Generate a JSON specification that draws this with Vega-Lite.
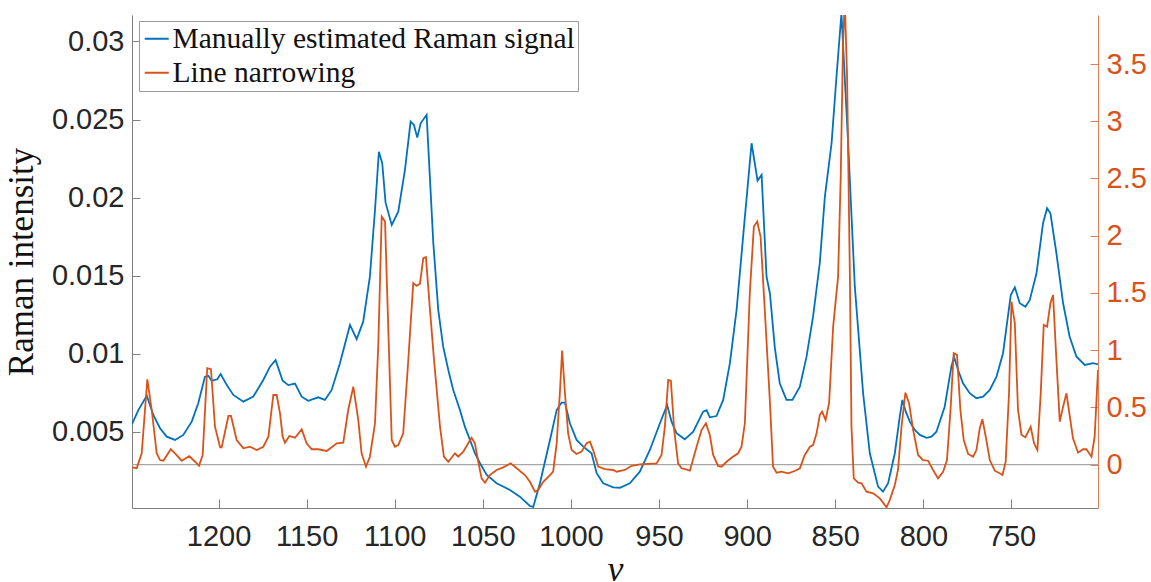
{
"$schema": "https://vega.github.io/schema/vega-lite/v6.json",
"width": 966, "height": 493,
"autosize": {"type": "none"},
"padding": {"left": 132, "top": 15, "right": 53, "bottom": 74},
"background": "white",
"config": {"view": {"stroke": null}, "axis": {"grid": false}},
"datasets": {
"raman": [
{"x":1249.1,"y":0.0055},{"x":1245.5,"y":0.0064},{"x":1240.7,"y":0.00732},{"x":1237,"y":0.00609},{"x":1233.2,"y":0.00524},{"x":1229.4,"y":0.0047},{"x":1224.7,"y":0.00449},{"x":1220,"y":0.00481},{"x":1215.2,"y":0.00566},{"x":1211.5,"y":0.00684},{"x":1207.7,"y":0.00854},{"x":1205.8,"y":0.0086},{"x":1203.9,"y":0.00828},{"x":1200.7,"y":0.00837},{"x":1198.8,"y":0.00871},{"x":1195.3,"y":0.008},{"x":1191.6,"y":0.00737},{"x":1185.9,"y":0.00694},{"x":1180.3,"y":0.00726},{"x":1174.6,"y":0.00833},{"x":1170.8,"y":0.00918},{"x":1167.6,"y":0.0096},{"x":1163.6,"y":0.00828},{"x":1160.4,"y":0.008},{"x":1156.6,"y":0.0081},{"x":1152.8,"y":0.00726},{"x":1149.1,"y":0.007},{"x":1143.4,"y":0.00722},{"x":1139.6,"y":0.00705},{"x":1135.8,"y":0.00769},{"x":1131.1,"y":0.0094},{"x":1125.4,"y":0.01185},{"x":1121.6,"y":0.01094},{"x":1117.9,"y":0.01206},{"x":1114.1,"y":0.01494},{"x":1111.2,"y":0.01921},{"x":1109,"y":0.02294},{"x":1107.1,"y":0.0222},{"x":1105.2,"y":0.01968},{"x":1101.7,"y":0.01825},{"x":1098,"y":0.0191},{"x":1094.2,"y":0.02177},{"x":1091,"y":0.02487},{"x":1089.1,"y":0.02465},{"x":1087.2,"y":0.02384},{"x":1085.3,"y":0.02476},{"x":1081.9,"y":0.0253},{"x":1078.1,"y":0.01708},{"x":1075.3,"y":0.01281},{"x":1072.5,"y":0.01046},{"x":1069.6,"y":0.00897},{"x":1066.8,"y":0.00769},{"x":1063,"y":0.00641},{"x":1060.2,"y":0.00534},{"x":1057.3,"y":0.00449},{"x":1054.5,"y":0.00364},{"x":1051.6,"y":0.003},{"x":1047.8,"y":0.00225},{"x":1042.2,"y":0.00172},{"x":1034.6,"y":0.00129},{"x":1029,"y":0.00086},{"x":1023.3,"y":0.00026},{"x":1021.4,"y":0.0002},{"x":1017.6,"y":0.00172},{"x":1011.9,"y":0.00449},{"x":1008.1,"y":0.0064},{"x":1005.3,"y":0.00688},{"x":1003.4,"y":0.00688},{"x":1000.6,"y":0.00556},{"x":996.8,"y":0.00449},{"x":993,"y":0.00406},{"x":988.3,"y":0.00364},{"x":985.4,"y":0.00236},{"x":981.7,"y":0.00172},{"x":976,"y":0.00146},{"x":972.2,"y":0.00143},{"x":966.6,"y":0.00172},{"x":960.9,"y":0.00246},{"x":955.2,"y":0.00385},{"x":949.5,"y":0.00556},{"x":945.4,"y":0.00673},{"x":942.9,"y":0.00566},{"x":940.1,"y":0.00492},{"x":935.4,"y":0.00453},{"x":930.6,"y":0.00502},{"x":925,"y":0.0063},{"x":923,"y":0.0064},{"x":921.2,"y":0.00594},{"x":917.4,"y":0.00602},{"x":913.6,"y":0.00705},{"x":909.8,"y":0.0094},{"x":906,"y":0.01281},{"x":902.3,"y":0.0175},{"x":897.5,"y":0.02348},{"x":894.1,"y":0.02109},{"x":891.8,"y":0.02145},{"x":889,"y":0.01494},{"x":887.1,"y":0.01388},{"x":884.3,"y":0.0104},{"x":881.5,"y":0.00812},{"x":877.7,"y":0.00705},{"x":874.3,"y":0.00705},{"x":870.1,"y":0.0079},{"x":866.3,"y":0.00982},{"x":862.6,"y":0.01238},{"x":858.8,"y":0.0158},{"x":855.9,"y":0.02006},{"x":852.1,"y":0.02348},{"x":849.3,"y":0.02775},{"x":846.5,"y":0.0318},{"x":842.7,"y":0.02348},{"x":838.9,"y":0.0143},{"x":834.2,"y":0.00748},{"x":830.4,"y":0.00364},{"x":825.7,"y":0.0015},{"x":822.9,"y":0.00118},{"x":820,"y":0.00172},{"x":816.2,"y":0.00364},{"x":813.4,"y":0.00598},{"x":811.9,"y":0.00705},{"x":810,"y":0.0063},{"x":807.7,"y":0.00566},{"x":804.9,"y":0.00513},{"x":802,"y":0.00481},{"x":798.2,"y":0.00463},{"x":795.4,"y":0.0047},{"x":792.6,"y":0.00502},{"x":787.9,"y":0.00662},{"x":784.1,"y":0.00918},{"x":782.6,"y":0.00982},{"x":780.3,"y":0.00897},{"x":777.5,"y":0.00812},{"x":773.7,"y":0.00748},{"x":769.9,"y":0.00716},{"x":766.1,"y":0.00726},{"x":762.3,"y":0.00769},{"x":758.5,"y":0.00854},{"x":754.8,"y":0.01004},{"x":750.4,"y":0.01377},{"x":748.1,"y":0.01426},{"x":745.3,"y":0.01324},{"x":742.1,"y":0.01302},{"x":739.6,"y":0.01345},{"x":735.8,"y":0.01516},{"x":732.1,"y":0.01836},{"x":729.8,"y":0.01932},{"x":727.9,"y":0.019},{"x":724.5,"y":0.01644},{"x":720.7,"y":0.01324},{"x":717,"y":0.0111},{"x":713.1,"y":0.00982},{"x":708.4,"y":0.00929},{"x":703.7,"y":0.0094},{"x":700.9,"y":0.00933}
],
"ln": [
{"x":1249.1,"y":-0.023},{"x":1246.4,"y":-0.03},{"x":1243.6,"y":0.1},{"x":1240.4,"y":0.746},{"x":1237.9,"y":0.478},{"x":1235.1,"y":0.1},{"x":1233.2,"y":0.041},{"x":1231.3,"y":0.035},{"x":1227.1,"y":0.135},{"x":1224.7,"y":0.1},{"x":1220.9,"y":0.035},{"x":1216.6,"y":0.076},{"x":1213.3,"y":0.026},{"x":1211.1,"y":-0.009},{"x":1209,"y":0.085},{"x":1206.4,"y":0.843},{"x":1204.3,"y":0.834},{"x":1202,"y":0.332},{"x":1199.1,"y":0.152},{"x":1198.2,"y":0.152},{"x":1194.4,"y":0.426},{"x":1192.9,"y":0.426},{"x":1189.7,"y":0.216},{"x":1185.9,"y":0.143},{"x":1182.1,"y":0.157},{"x":1178.3,"y":0.128},{"x":1174.6,"y":0.157},{"x":1171.7,"y":0.245},{"x":1168.9,"y":0.609},{"x":1167,"y":0.609},{"x":1165.1,"y":0.449},{"x":1163.6,"y":0.245},{"x":1162.3,"y":0.192},{"x":1159.8,"y":0.251},{"x":1156.6,"y":0.236},{"x":1152.8,"y":0.309},{"x":1150,"y":0.187},{"x":1147.1,"y":0.135},{"x":1143.4,"y":0.135},{"x":1138.6,"y":0.12},{"x":1132.9,"y":0.187},{"x":1129.2,"y":0.192},{"x":1126.4,"y":0.478},{"x":1123.5,"y":0.682},{"x":1120.7,"y":0.391},{"x":1118.8,"y":0.1},{"x":1116.3,"y":-0.017},{"x":1114.1,"y":0.07},{"x":1111.2,"y":0.362},{"x":1109.3,"y":1.061},{"x":1107.4,"y":2.168},{"x":1105.5,"y":2.124},{"x":1103.7,"y":1.206},{"x":1101.7,"y":0.216},{"x":1099.9,"y":0.157},{"x":1098,"y":0.172},{"x":1095.2,"y":0.274},{"x":1092.3,"y":0.915},{"x":1089.5,"y":1.586},{"x":1087.6,"y":1.562},{"x":1085.7,"y":1.58},{"x":1083.8,"y":1.804},{"x":1082.3,"y":1.813},{"x":1080,"y":1.352},{"x":1077.7,"y":0.915},{"x":1074.3,"y":0.332},{"x":1072.1,"y":0.07},{"x":1069.6,"y":0.026},{"x":1065.8,"y":0.1},{"x":1064,"y":0.07},{"x":1061.1,"y":0.114},{"x":1058.3,"y":0.187},{"x":1056.4,"y":0.236},{"x":1054.5,"y":0.187},{"x":1052.6,"y":0.026},{"x":1050.7,"y":-0.119},{"x":1048.8,"y":-0.157},{"x":1046,"y":-0.09},{"x":1042.2,"y":-0.046},{"x":1038.4,"y":-0.023},{"x":1034.2,"y":0.012},{"x":1030.8,"y":-0.031},{"x":1026.1,"y":-0.09},{"x":1023.3,"y":-0.149},{"x":1020.4,"y":-0.236},{"x":1018.6,"y":-0.221},{"x":1015.7,"y":-0.149},{"x":1011.9,"y":-0.09},{"x":1010.1,"y":-0.061},{"x":1008.1,"y":0.187},{"x":1006.3,"y":0.624},{"x":1005,"y":0.997},{"x":1003.4,"y":0.624},{"x":1001.6,"y":0.274},{"x":999.6,"y":0.128},{"x":996.8,"y":0.094},{"x":994,"y":0.114},{"x":991.1,"y":0.187},{"x":989.2,"y":0.201},{"x":987.4,"y":0.128},{"x":984.5,"y":-0.017},{"x":980.7,"y":-0.038},{"x":976,"y":-0.046},{"x":974.1,"y":-0.061},{"x":969.4,"y":-0.046},{"x":965.6,"y":-0.009},{"x":960.9,"y":0.003},{"x":951.4,"y":0.012},{"x":948.6,"y":0.085},{"x":946.7,"y":0.332},{"x":944.8,"y":0.74},{"x":943.3,"y":0.734},{"x":941.4,"y":0.303},{"x":939.2,"y":0.012},{"x":937.2,"y":-0.031},{"x":934.8,"y":-0.04},{"x":932.5,"y":-0.052},{"x":928.7,"y":0.157},{"x":925.9,"y":0.303},{"x":923.4,"y":0.362},{"x":921.2,"y":0.26},{"x":919.3,"y":0.085},{"x":916.5,"y":-0.011},{"x":914.5,"y":-0.017},{"x":911.7,"y":0.026},{"x":908.9,"y":0.061},{"x":905.1,"y":0.1},{"x":903.2,"y":0.157},{"x":901.3,"y":0.362},{"x":898.5,"y":1.498},{"x":896.2,"y":2.08},{"x":894.3,"y":2.124},{"x":892.4,"y":1.993},{"x":890,"y":1.352},{"x":887.1,"y":0.55},{"x":885.3,"y":-0.017},{"x":883.3,"y":-0.07},{"x":880.5,"y":-0.061},{"x":876.8,"y":-0.075},{"x":873,"y":-0.055},{"x":870.1,"y":-0.031},{"x":867.3,"y":0.085},{"x":864.4,"y":0.157},{"x":862.6,"y":0.172},{"x":860.6,"y":0.274},{"x":858.8,"y":0.434},{"x":857.5,"y":0.463},{"x":855.5,"y":0.391},{"x":853.5,"y":0.537},{"x":851.2,"y":1.206},{"x":848.4,"y":1.643},{"x":846.9,"y":2.517},{"x":845.6,"y":3.683},{"x":844.6,"y":4.05},{"x":843.3,"y":3.392},{"x":841.7,"y":1.643},{"x":840.8,"y":0.332},{"x":839.5,"y":-0.119},{"x":837,"y":-0.157},{"x":835.1,"y":-0.163},{"x":832.3,"y":-0.236},{"x":828.5,"y":-0.25},{"x":824.7,"y":-0.294},{"x":820.9,"y":-0.372},{"x":819.1,"y":-0.309},{"x":816.2,"y":-0.177},{"x":814.4,"y":-0.046},{"x":812.4,"y":0.332},{"x":810.2,"y":0.629},{"x":808.1,"y":0.537},{"x":805.8,"y":0.303},{"x":803,"y":0.085},{"x":800.2,"y":0.041},{"x":797.3,"y":0.035},{"x":794.5,"y":-0.046},{"x":791.7,"y":-0.119},{"x":788.8,"y":-0.061},{"x":786.6,"y":0.041},{"x":784.6,"y":0.478},{"x":782.8,"y":0.974},{"x":780.9,"y":0.959},{"x":779,"y":0.478},{"x":777.1,"y":0.216},{"x":774.6,"y":0.094},{"x":771.8,"y":0.07},{"x":769.9,"y":0.128},{"x":768,"y":0.318},{"x":766.5,"y":0.397},{"x":764.6,"y":0.245},{"x":762.3,"y":0.041},{"x":759.5,"y":-0.052},{"x":756.7,"y":-0.075},{"x":755.1,"y":-0.09},{"x":753.3,"y":0.026},{"x":751.4,"y":0.624},{"x":750,"y":1.425},{"x":748.1,"y":1.236},{"x":746.3,"y":0.478},{"x":744.3,"y":0.26},{"x":742.1,"y":0.24},{"x":739.1,"y":0.332},{"x":737.2,"y":0.187},{"x":735.3,"y":0.128},{"x":733.4,"y":0.624},{"x":731.7,"y":1.221},{"x":729.8,"y":1.206},{"x":727.9,"y":1.411},{"x":726.4,"y":1.483},{"x":724.5,"y":0.915},{"x":722.6,"y":0.376},{"x":720.7,"y":0.507},{"x":718.8,"y":0.624},{"x":717,"y":0.434},{"x":715.1,"y":0.231},{"x":712.2,"y":0.105},{"x":709.4,"y":0.135},{"x":707.5,"y":0.135},{"x":704.6,"y":0.07},{"x":702.8,"y":0.245},{"x":700.9,"y":0.828}
]
},
"layer": [
{
"data": {"values": [{"zero": 0}]},
"mark": {"type": "rule", "color": "#a6a6a6", "strokeWidth": 1.2},
"encoding": {
"y": {"field": "zero", "type": "quantitative", "scale": {"domain": [-0.378, 3.928], "nice": false, "zero": false}, "axis": null}
}
},
{
"data": {"name": "raman"},
"mark": {"type": "line", "strokeWidth": 1.8, "clip": true},
"encoding": {
"x": {"field": "x", "type": "quantitative", "sort": null,
"scale": {"domain": [700.9, 1249.1], "reverse": true, "nice": false, "zero": false},
"axis": {"orient": "bottom", "values": [750, 800, 850, 900, 950, 1000, 1050, 1100, 1150, 1200], "format": "d",
"labelFont": "Liberation Sans", "labelFontSize": 29, "labelColor": "#262626", "labelPadding": 23,
"domainColor": "#7f7f7f", "tickColor": "#7f7f7f", "tickSize": -9,
"title": "ν", "titleFont": "Liberation Serif", "titleFontStyle": "italic", "titleFontWeight": "normal", "titleFontSize": 36, "titleColor": "#111111", "titlePadding": 1}},
"y": {"field": "y", "type": "quantitative",
"scale": {"domain": [0.000134, 0.03169], "nice": false, "zero": false},
"axis": {"orient": "left", "values": [0.005, 0.01, 0.015, 0.02, 0.025, 0.03], "format": "~g",
"labelFont": "Liberation Sans", "labelFontSize": 29, "labelColor": "#262626", "labelPadding": 16,
"domainColor": "#7f7f7f", "tickColor": "#7f7f7f", "tickSize": -8,
"title": "Raman intensity", "titleFont": "Liberation Serif", "titleFontWeight": "normal", "titleFontSize": 35, "titleColor": "#111111", "titlePadding": 12}},
"color": {"datum": "Manually estimated Raman signal", "type": "nominal",
"scale": {"domain": ["Manually estimated Raman signal", "Line narrowing"], "range": ["#0072BD", "#D95319"]},
"legend": {"orient": "none", "legendX": 7, "legendY": 6, "title": null, "symbolType": "stroke", "symbolSize": 576, "symbolStrokeWidth": 2,
"labelFont": "Liberation Serif", "labelFontSize": 29.5, "labelColor": "#111111", "labelLimit": 800,
"strokeColor": "#999999", "fillColor": "white", "padding": 3, "rowPadding": 3, "labelOffset": 1}}
}
},
{
"data": {"name": "ln"},
"mark": {"type": "line", "strokeWidth": 1.8, "clip": true},
"encoding": {
"x": {"field": "x", "type": "quantitative", "sort": null},
"y": {"field": "y", "type": "quantitative",
"scale": {"domain": [-0.378, 3.928], "nice": false, "zero": false},
"axis": {"orient": "right", "values": [0, 0.5, 1, 1.5, 2, 2.5, 3, 3.5], "format": "~g",
"labelFont": "Liberation Sans", "labelFontSize": 29, "labelColor": "#D95319", "labelPadding": 16,
"domainColor": "#E27C52", "tickColor": "#E27C52", "tickSize": -8, "title": null}},
"color": {"datum": "Line narrowing", "type": "nominal"}
}
}
],
"resolve": {"scale": {"y": "independent"}}
}
